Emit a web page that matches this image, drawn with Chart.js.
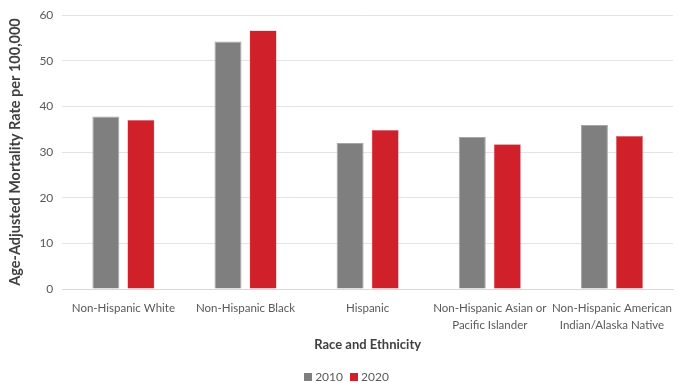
<!DOCTYPE html>
<html>
<head>
<meta charset="utf-8">
<script src="https://cdn.jsdelivr.net/npm/chart.js@4.4.1/dist/chart.umd.min.js"></script>
<style>
  html, body { margin: 0; padding: 0; background: #ffffff; }
  #wrap { width: 679px; height: 383px; position: relative; }
  #legend {
    position: absolute; left: 7px; top: 369px; width: 679px;
    display: flex; justify-content: center; gap: 7px;
    font: 12px Lato, 'Open Sans', sans-serif; color: #595959; line-height: 16px;
  }
  #legend .item { display: flex; align-items: center; }
  #legend .box { width: 8px; height: 8px; margin-right: 3px; }
</style>
</head>
<body>
<div id="wrap"><canvas id="chart"></canvas><div id="legend"></div></div>
<script>
// Age-adjusted mortality rate per 100,000 by race and ethnicity
const categories = [
  "Non-Hispanic White",
  "Non-Hispanic Black",
  "Hispanic",
  ["Non-Hispanic Asian or", "Pacific Islander"],
  ["Non-Hispanic American", "Indian/Alaska Native"]
];
const rates2010 = [37.8, 54.2, 32.0, 33.3, 35.9];
const rates2020 = [37.0, 56.6, 34.8, 31.7, 33.5];
const yTicks = [0, 10, 20, 30, 40, 50, 60];

const FONT = "Lato, 'Open Sans', sans-serif";

const chart = new Chart(document.getElementById("chart"), {
  type: "bar",
  data: {
    labels: categories,
    datasets: [
      {
        label: "2010",
        data: rates2010,
        backgroundColor: "#7f7f7f",
        borderColor: "#a6a6a6",
        borderWidth: 1,
        categoryPercentage: 0.574,
        barPercentage: 0.77
      },
      {
        label: "2020",
        data: rates2020,
        backgroundColor: "#d0212b",
        borderColor: "#e0707a",
        borderWidth: 0.5,
        categoryPercentage: 0.574,
        barPercentage: 0.77
      }
    ]
  },
  options: {
    responsive: true,
    maintainAspectRatio: false,
    animation: false,
    layout: { padding: { top: 5, right: 6, left: 7, bottom: 30 } },
    plugins: {
      legend: { display: false },
      tooltip: { enabled: false }
    },
    scales: {
      x: {
        grid: { display: false },
        border: { color: "#d9d9d9", width: 1 },
        ticks: {
          color: "#595959",
          font: { family: FONT, size: 11.5, lineHeight: 1.45 },
          maxRotation: 0,
          autoSkip: false,
          padding: 3
        },
        title: {
          display: true,
          text: "Race and Ethnicity",
          color: "#404040",
          font: { family: FONT, size: 13, weight: "bold" },
          padding: { top: 1, bottom: 0 }
        }
      },
      y: {
        min: 0,
        max: 60,
        afterBuildTicks: (axis) => { axis.ticks = yTicks.map(v => ({ value: v })); },
        grid: { color: "#e3e3e3", lineWidth: 1, drawTicks: false },
        border: { display: false },
        ticks: {
          color: "#595959",
          font: { family: FONT, size: 12, lineHeight: 1 },
          padding: 9
        },
        title: {
          display: true,
          text: "Age-Adjusted Mortality Rate per 100,000",
          color: "#404040",
          font: { family: FONT, size: 14.5, weight: "bold" },
          padding: { top: 0, bottom: 6 }
        }
      }
    }
  }
});

// Legend built from the chart's datasets
const legendEl = document.getElementById("legend");
chart.data.datasets.forEach(ds => {
  const item = document.createElement("div");
  item.className = "item";
  const box = document.createElement("span");
  box.className = "box";
  box.style.background = ds.backgroundColor;
  const txt = document.createElement("span");
  txt.textContent = ds.label;
  item.appendChild(box);
  item.appendChild(txt);
  legendEl.appendChild(item);
});
</script>
</body>
</html>
